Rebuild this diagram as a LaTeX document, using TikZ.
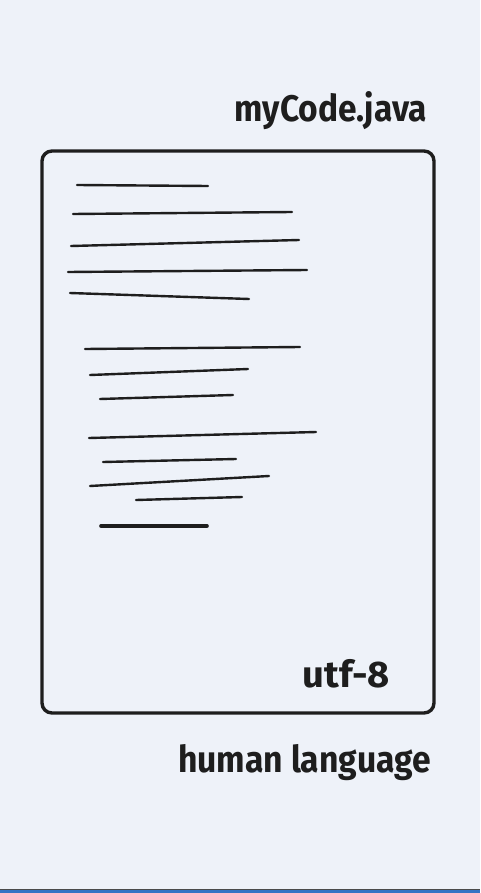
\documentclass[tikz,border=0pt]{standalone}
\usepackage{fontspec}
\setmainfont{Fira Sans}
\definecolor{bgc}{HTML}{EEF2F9}
\definecolor{ink}{HTML}{1E1E1E}
\definecolor{barblue}{HTML}{3574C4}
\begin{document}
\begin{tikzpicture}[x=1pt,y=-1pt,
  codeline/.style={draw=ink,line width=2.4pt,line cap=round},
  label/.style={text=ink,inner sep=0pt,font=\fontsize{37}{42}\selectfont\bfseries}]
\fill[bgc] (0,0) rectangle (480,893);
\useasboundingbox (0,0) rectangle (480,893);
\fill[ink!80] (0,888.5) rectangle (480,890);
\fill[barblue] (0,890) rectangle (480,893);
\draw[draw=ink,line width=3.4pt,rounded corners=10pt] (42,151) rectangle (434,713);
\draw[codeline] (77,185) -- (208,186);
\draw[codeline] (73,214) -- (292,212);
\draw[codeline] (71,246) -- (299,240);
\draw[codeline] (68,272) -- (307,270);
\draw[codeline] (70,293) -- (249,299);
\draw[codeline] (85,349) -- (300,347);
\draw[codeline] (90,375) -- (248,369);
\draw[codeline] (100,399) -- (233,395);
\draw[codeline] (89,438) -- (316,432);
\draw[codeline] (103,462) -- (236,459);
\draw[codeline] (90,486) -- (269,476);
\draw[codeline] (136,500) -- (242,497);
\draw[codeline,line width=3.6pt] (101,526) -- (207,526);
\node[label,anchor=base east] (fname) at (427,122) {\scalebox{0.905}[1]{myCode.java}};
\node[label,anchor=base east] (enc) at (390,687) {\scalebox{1.03}[1]{utf-8}};
\node[label,anchor=base east] (lang) at (431,772) {\scalebox{0.91}[1]{human language}};
\end{tikzpicture}
\end{document}
